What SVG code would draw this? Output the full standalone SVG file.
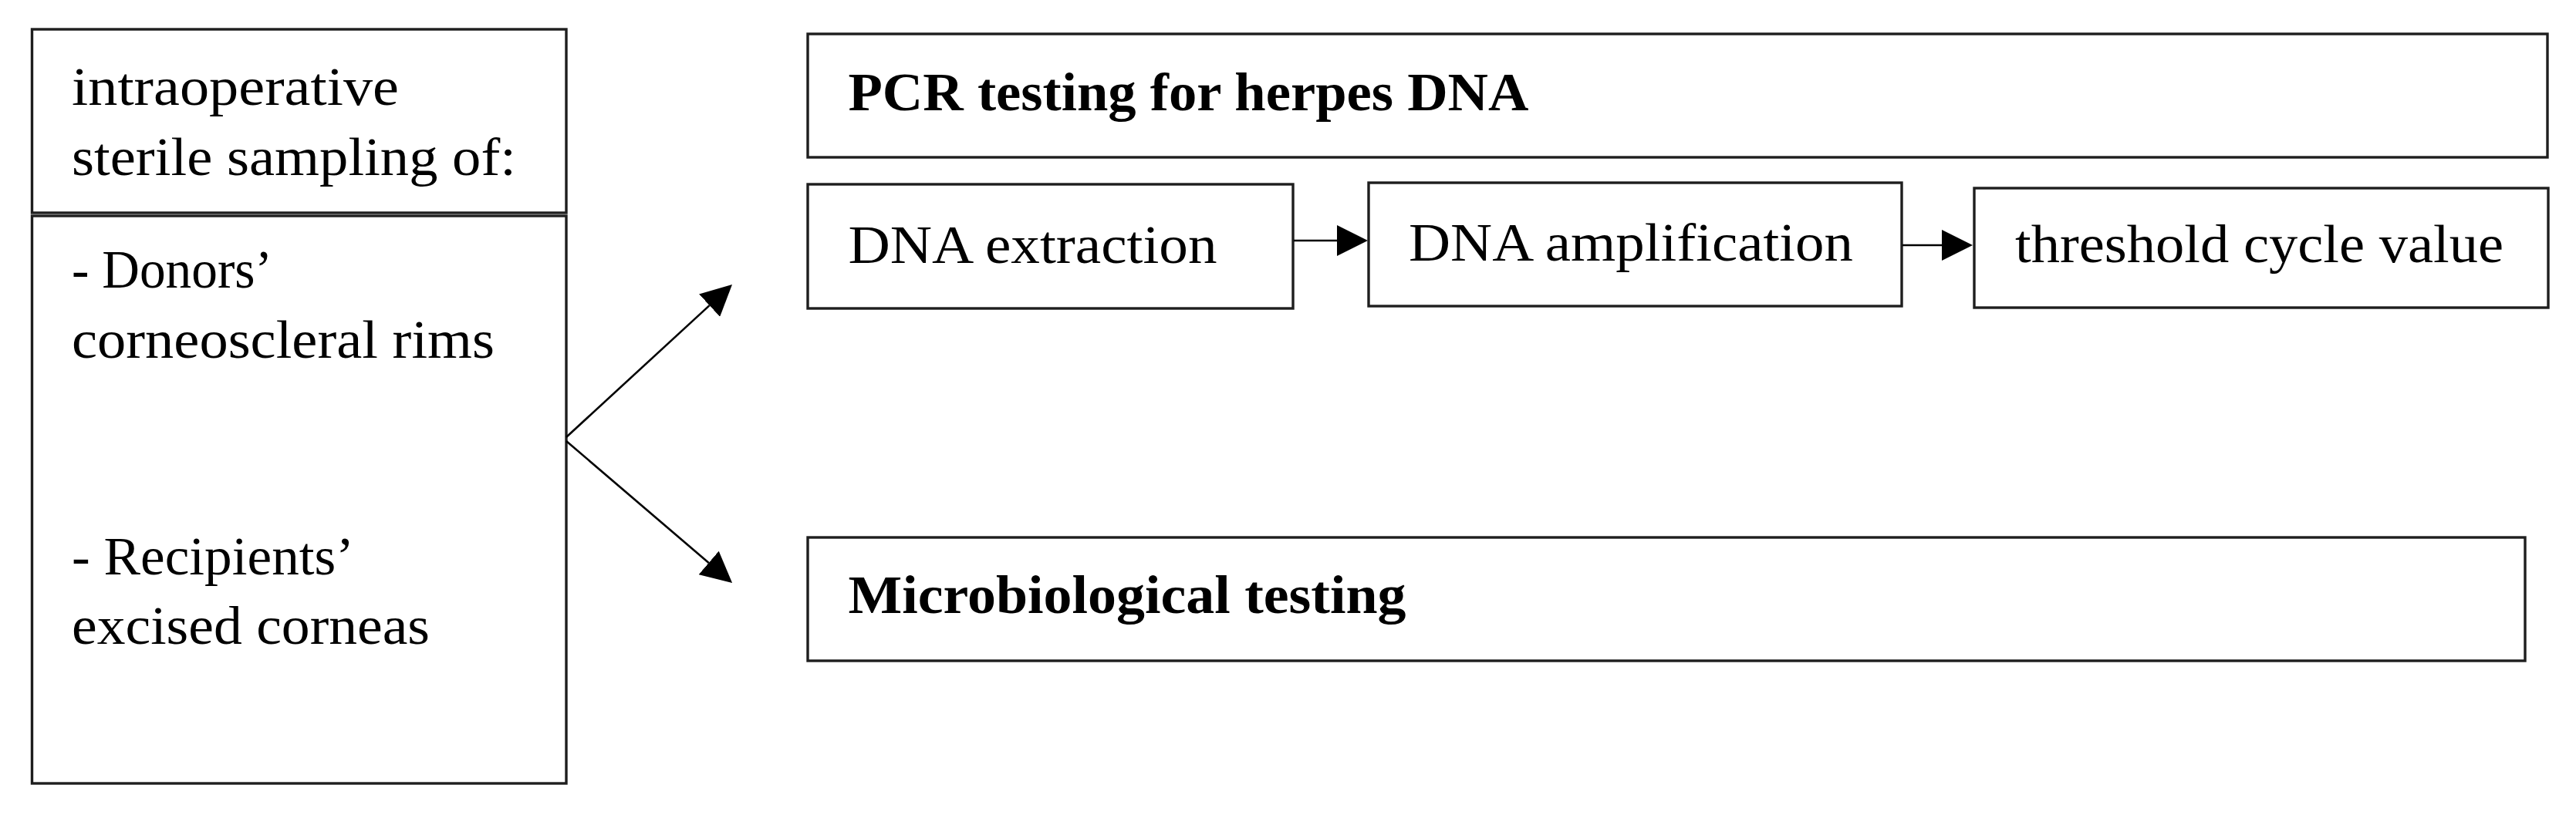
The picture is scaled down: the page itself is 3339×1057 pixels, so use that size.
<svg xmlns="http://www.w3.org/2000/svg" width="3339" height="1057" viewBox="0 0 3339 1057">
<style>
.box{fill:#fff;stroke:#1e1e1e;stroke-width:3.4}
.t{font-family:"Liberation Serif","Times New Roman",serif;font-size:70px;fill:#000}
.b{font-weight:bold}
.c{stroke:#000;stroke-width:2.6;fill:none}
</style>
<defs>
<marker id="ah" viewBox="0 0 40 40" refX="0" refY="20" markerWidth="40" markerHeight="40" markerUnits="userSpaceOnUse" orient="auto">
<path d="M0,0 L40,20 L0,40 z" fill="#000"/>
</marker>
</defs>
<rect width="3339" height="1057" fill="#fff"/>
<g id="sampling-header">
<rect class="box" x="41.5" y="38" width="692.5" height="238"/>
<text class="t" x="93" y="136" textLength="424" lengthAdjust="spacingAndGlyphs">intraoperative</text>
<text class="t" x="93" y="227" textLength="576" lengthAdjust="spacingAndGlyphs">sterile sampling of:</text>
</g>
<g id="sampling-sources">
<rect class="box" x="41.5" y="280" width="692.5" height="736"/>
<text class="t" x="93" y="373" textLength="260" lengthAdjust="spacingAndGlyphs">- Donors’</text>
<text class="t" x="93" y="464" textLength="548" lengthAdjust="spacingAndGlyphs">corneoscleral rims</text>
<text class="t" x="93" y="745" textLength="366" lengthAdjust="spacingAndGlyphs">- Recipients’</text>
<text class="t" x="93" y="835" textLength="464" lengthAdjust="spacingAndGlyphs">excised corneas</text>
</g>
<g id="pcr">
<rect class="box" x="1047" y="44" width="2255" height="160"/>
<text class="t b" x="1099.5" y="143" textLength="882" lengthAdjust="spacingAndGlyphs">PCR testing for herpes DNA</text>
</g>
<g id="dna-extraction">
<rect class="box" x="1047" y="239" width="629" height="161"/>
<text class="t" x="1099.5" y="341" textLength="478" lengthAdjust="spacingAndGlyphs">DNA extraction</text>
</g>
<g id="dna-amplification">
<rect class="box" x="1774" y="237" width="691" height="160"/>
<text class="t" x="1826" y="338" textLength="576" lengthAdjust="spacingAndGlyphs">DNA amplification</text>
</g>
<g id="threshold">
<rect class="box" x="2559" y="244" width="744" height="155"/>
<text class="t" x="2612" y="340" textLength="633" lengthAdjust="spacingAndGlyphs">threshold cycle value</text>
</g>
<g id="microbiological">
<rect class="box" x="1047" y="697" width="2226" height="160"/>
<text class="t b" x="1099.5" y="795" textLength="723" lengthAdjust="spacingAndGlyphs">Microbiological testing</text>
</g>
<g id="connectors">
<line class="c" x1="734" y1="567" x2="919.6" y2="396.1" marker-end="url(#ah)"/>
<line class="c" x1="734" y1="572" x2="918.7" y2="729.9" marker-end="url(#ah)"/>
<line class="c" x1="1677" y1="312" x2="1733" y2="312" marker-end="url(#ah)"/>
<line class="c" x1="2466" y1="318" x2="2517" y2="318" marker-end="url(#ah)"/>
</g>
</svg>
